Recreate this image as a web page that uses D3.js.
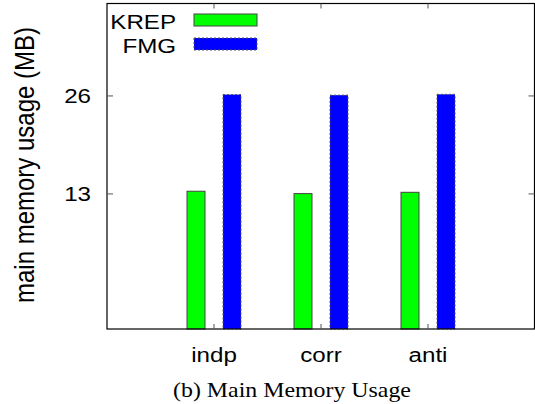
<!DOCTYPE html>
<html><head><meta charset="utf-8">
<script src="https://cdn.jsdelivr.net/npm/d3@7"></script>
<style>body{margin:0;background:#fff}svg{display:block}</style>
</head><body>
<script>
const categories = ["indp", "corr", "anti"];
const seriesNames = ["KREP", "FMG"];
const krep = [13.25, 13.03, 13.15];
const fmg = [26.25, 26.15, 26.3];
const yTicks = [13, 26];
const caption = "(b) Main Memory Usage";
const yLabel = "main memory usage (MB)";

const W = 535, H = 404;
const L = 107, R = 534.5, T = 3.5, B = 329;
const svg = d3.select("body").append("svg").attr("width", W).attr("height", H);

const x = d3.scaleLinear().domain([0, 4]).range([L, L + 428]);
const y = d3.scaleLog().domain([5, 50]).range([B, T]);

const sans = "'Liberation Sans', Arial, sans-serif";
const serif = "'Liberation Serif', 'Times New Roman', serif";
const SX = 1.15;

function addText(px, py, str, size, anchor, family, sx) {
  svg.append("g").attr("transform", `translate(${px},${py}) scale(${sx},1)`)
    .append("text").attr("x", 0).attr("y", 0).attr("text-anchor", anchor)
    .attr("font-family", family).attr("font-size", size).attr("fill", "#000").text(str);
}

// bars
const barW = 18, off = 18;
const series = [
  {name: seriesNames[0], values: krep, fill: "#00ff00", stroke: "#444", dash: null, dx: -off},
  {name: seriesNames[1], values: fmg, fill: "#0000ff", stroke: "#555", dash: "2,2", dx: off}
];
series.forEach(s => {
  svg.append("g").selectAll("rect").data(s.values).join("rect")
    .attr("x", (d, i) => x(i + 1) + s.dx - barW / 2)
    .attr("y", d => y(d))
    .attr("width", barW)
    .attr("height", d => B - y(d))
    .attr("fill", s.fill)
    .attr("stroke", s.stroke)
    .attr("stroke-width", 1)
    .attr("stroke-dasharray", s.dash);
});

// frame
svg.append("rect").attr("x", L).attr("y", T).attr("width", R - L).attr("height", B - T)
  .attr("fill", "none").attr("stroke", "#000").attr("stroke-width", 1.2);

// y ticks
yTicks.forEach(v => {
  svg.append("line").attr("x1", L).attr("x2", L + 6).attr("y1", y(v)).attr("y2", y(v)).attr("stroke", "#555");
  svg.append("line").attr("x1", R).attr("x2", R - 6).attr("y1", y(v)).attr("y2", y(v)).attr("stroke", "#555");
  addText(91, y(v) + 7.5, v, 21, "end", sans, SX);
});
// x ticks
categories.forEach((c, i) => {
  const cx = x(i + 1);
  svg.append("line").attr("x1", cx).attr("x2", cx).attr("y1", B).attr("y2", B - 5).attr("stroke", "#555");
  svg.append("line").attr("x1", cx).attr("x2", cx).attr("y1", T).attr("y2", T + 5).attr("stroke", "#555");
  addText(cx, 362, c, 21, "middle", sans, SX);
});

// y label
svg.append("text").attr("transform", "translate(34,165) rotate(-90) scale(1,1.15)").attr("text-anchor", "middle")
  .attr("font-family", sans).attr("font-size", 24).text(yLabel);

// legend
series.forEach((s, i) => {
  const yy = 20 + i * 24;
  addText(176, yy + 8.5, s.name, 21, "end", sans, SX);
  svg.append("rect").attr("x", 194).attr("y", yy - 6).attr("width", 63).attr("height", 12)
    .attr("fill", s.fill).attr("stroke", s.stroke).attr("stroke-dasharray", s.dash);
});

// caption
addText(292, 396.5, caption, 21.5, "middle", serif, 1.11);
</script>
</body></html>
